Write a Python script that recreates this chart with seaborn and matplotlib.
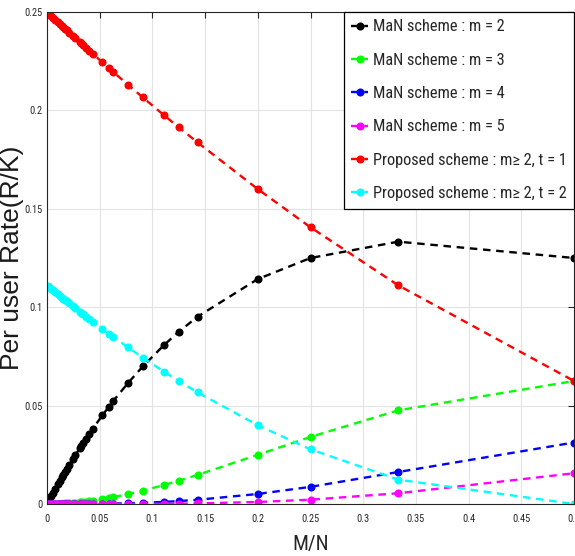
import numpy as np
import pandas as pd
import matplotlib
import matplotlib.pyplot as plt
import seaborn as sns

matplotlib.use('Agg')

# M/N values (1/q for q = 2, 3, 4, 5, 7, 8, 9, 11, ... 1024)
m_over_n = [0.5, 0.3333, 0.25, 0.2, 0.1429, 0.125, 0.1111, 0.0909, 0.0769, 0.0625,
            0.0588, 0.0526, 0.0435, 0.04, 0.0370, 0.0345, 0.0323, 0.03125, 0.0270, 0.0244,
            0.0213, 0.0189, 0.0169, 0.0156, 0.0141, 0.0123, 0.0103, 0.0078, 0.0059, 0.0039,
            0.0020, 0.0010]

man_m2 = [0.125, 0.1333, 0.125, 0.1143, 0.0952, 0.0875, 0.0808, 0.0699, 0.0615, 0.0521,
          0.0495, 0.0451, 0.0383, 0.0356, 0.0332, 0.0311, 0.0293, 0.0285, 0.0249, 0.0227,
          0.0200, 0.0178, 0.0161, 0.0149, 0.0135, 0.0119, 0.0100, 0.00763, 0.00581, 0.00386,
          0.00194, 0.00097]

man_m3 = [0.0625, 0.0476, 0.0341, 0.025, 0.01478, 0.01182, 0.00966, 0.00678, 0.00502, 0.00342,
          0.00306, 0.00248, 0.00173, 0.00147, 0.00127, 0.00111, 0.00097, 0.00092, 0.00069, 0.00057,
          0.00043, 0.00034, 0.00028, 0.00024, 0.00019, 0.00015, 0.0001, 0.00006, 0.000035, 0.000015,
          0.000004, 0.000001]

man_m4 = [0.03125, 0.01626, 0.00872, 0.0051, 0.00214, 0.00149, 0.00108, 0.00062, 0.00039, 0.000215,
          0.00018, 0.00013, 0.000075, 0.000059, 0.000047, 0.000038, 0.000031, 0.000029, 0.000019, 0.000014,
          0.000009, 0.000006, 0.000005, 0.000004, 0.000003, 0.000002, 0.000001, 0.0, 0.0, 0.0,
          0.0, 0.0]

man_m5 = [0.015625, 0.00546, 0.00219, 0.00102, 0.000306, 0.000187, 0.00012, 0.000056, 0.00003, 0.000013,
          0.000011, 0.000007, 0.000003, 0.000002, 0.000002, 0.000001, 0.000001, 0.000001, 0.0, 0.0,
          0.0, 0.0, 0.0, 0.0, 0.0, 0.0, 0.0, 0.0, 0.0, 0.0,
          0.0, 0.0]

prop_t1 = [0.0625, 0.1111, 0.1406, 0.16, 0.1837, 0.1914, 0.1975, 0.2066, 0.2130, 0.2197,
           0.2215, 0.2244, 0.2287, 0.2304, 0.2318, 0.2331, 0.2341, 0.2346, 0.2367, 0.2380,
           0.2395, 0.2407, 0.2416, 0.2422, 0.2430, 0.2439, 0.2449, 0.2461, 0.2471, 0.2480,
           0.2490, 0.2495]

prop_t2 = [0.0, 0.01235, 0.02778, 0.04, 0.05669, 0.0625, 0.06722, 0.07438, 0.07955, 0.08507,
           0.08651, 0.08895, 0.09263, 0.09404, 0.09526, 0.09632, 0.09724, 0.09766, 0.09942, 0.1005,
           0.1019, 0.1029, 0.1037, 0.1043, 0.1049, 0.1057, 0.1066, 0.1077, 0.1085, 0.1094,
           0.1102, 0.1107]

labels = ['MaN scheme : m = 2', 'MaN scheme : m = 3', 'MaN scheme : m = 4',
          'MaN scheme : m = 5', 'Proposed scheme : m\u2265 2, t = 1',
          'Proposed scheme : m\u2265 2, t = 2']
colors = ['#000000', '#00ff00', '#0000ff', '#ff00ff', '#ff0000', '#00ffff']
series = [man_m2, man_m3, man_m4, man_m5, prop_t1, prop_t2]

sns.set_style('white')
plt.rcParams['font.family'] = ['Roboto Condensed', 'DejaVu Sans']

fig = plt.figure(figsize=(5.75, 5.56), dpi=100)
ax = fig.add_axes([47 / 575, 52 / 556, 527 / 575, 492 / 556])

for vals, lab, col in zip(series, labels, colors):
    df = pd.DataFrame({'x': m_over_n, 'y': vals})
    sns.lineplot(data=df, x='x', y='y', ax=ax, color=col, label=lab,
                 marker='o', markersize=5.8, markeredgewidth=0,
                 linewidth=1.7, dashes=False, linestyle=(0, (3.2, 2.4)))

ax.set_xlim(0, 0.5)
ax.set_ylim(0, 0.25)
ax.set_xticks([0, 0.05, 0.1, 0.15, 0.2, 0.25, 0.3, 0.35, 0.4, 0.45, 0.5])
ax.set_yticks([0, 0.05, 0.1, 0.15, 0.2, 0.25])
ax.set_xticklabels(['0', '0.05', '0.1', '0.15', '0.2', '0.25', '0.3', '0.35', '0.4', '0.45', '0.5'])
ax.set_yticklabels(['0', '0.05', '0.1', '0.15', '0.2', '0.25'])
ax.tick_params(direction='in', length=4, width=0.8, top=True, right=True,
               labelsize=7.5, colors='#262626')
ax.tick_params(axis='x', pad=7)
ax.tick_params(axis='y', pad=3)
ax.grid(True, color='#e3e3e3', linewidth=0.8)
for sp in ax.spines.values():
    sp.set_color('#262626')
    sp.set_linewidth(0.8)

ax.set_xlabel('M/N', fontsize=15)
ax.xaxis.set_label_coords(0.5, -0.062)
ax.set_ylabel('Per user Rate(R/K)', fontsize=19, family=['Liberation Sans', 'DejaVu Sans'],
              color='#1a1a1a')
ax.yaxis.set_label_coords(-0.044, 0.5)

leg = ax.legend(loc='upper right', borderaxespad=0, fontsize=11.8, fancybox=False,
                framealpha=1, edgecolor='black', handlelength=1.0, handletextpad=0.3,
                labelspacing=1.12, borderpad=0.45)
leg.get_frame().set_linewidth(0.9)

plt.savefig('out.png', dpi=100)
plt.close()
